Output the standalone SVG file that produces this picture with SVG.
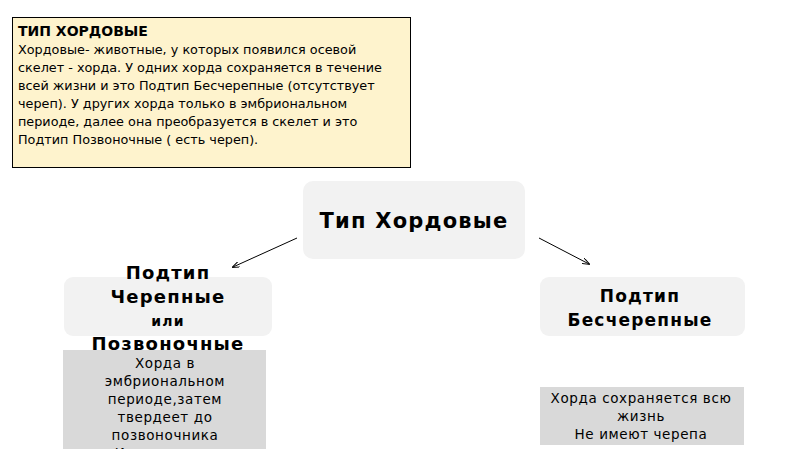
<svg xmlns="http://www.w3.org/2000/svg" width="800" height="449" viewBox="0 0 800 449">
<style>
text{font-family:"DejaVu Sans",sans-serif;fill:#000}
.b{font-weight:bold;text-anchor:middle;letter-spacing:1.2px}
.s{font-size:13.5px;text-anchor:middle;letter-spacing:0.6px}
.d{font-size:12.8px}
.node{fill:#f2f2f2}
.gray{fill:#d9d9d9}
</style>
<defs>
<marker id="a" markerWidth="8" markerHeight="6" refX="7" refY="3" orient="auto" markerUnits="userSpaceOnUse"><path d="M0,0L8,3L0,6" fill="none" stroke="#000" stroke-width="1"/></marker>
<clipPath id="c"><rect x="0" y="0" width="800" height="449"/></clipPath>
</defs>
<rect width="800" height="449" fill="#fff"/>
<g id="info">
<rect x="12.5" y="17.5" width="398" height="150" fill="#fef3cd" stroke="#000"/>
<text x="18" y="36" font-size="14" font-weight="bold">ТИП ХОРДОВЫЕ</text>
<text class="d" x="18" y="54">Хордовые- животные, у которых появился осевой</text>
<text class="d" x="18" y="72">скелет - хорда. У одних хорда сохраняется в течение</text>
<text class="d" x="18" y="90">всей жизни и это Подтип Бесчерепные (отсутствует</text>
<text class="d" x="18" y="108">череп). У других хорда только в эмбриональном</text>
<text class="d" x="18" y="126">периоде, далее она преобразуется в скелет и это</text>
<text class="d" x="18" y="144">Подтип Позвоночные ( есть череп).</text>
</g>
<g id="root">
<rect class="node" x="303" y="181" width="222" height="78" rx="10"/>
<text class="b" x="414" y="228" font-size="21">Тип Хордовые</text>
</g>
<g id="left">
<rect class="node" x="64" y="277" width="208" height="59" rx="9"/>
<text class="b" x="168" y="279" font-size="18">Подтип</text>
<text class="b" x="168" y="303" font-size="18">Черепные</text>
<text class="b" x="168" y="326" font-size="14">или</text>
<text class="b" x="168" y="350" font-size="18">Позвоночные</text>
</g>
<g id="leftdesc" clip-path="url(#c)">
<rect class="gray" x="63" y="350" width="203" height="110"/>
<text class="s" x="165" y="368">Хорда в</text>
<text class="s" x="165" y="386">эмбриональном</text>
<text class="s" x="165" y="404">периоде,затем</text>
<text class="s" x="165" y="422">твердеет до</text>
<text class="s" x="165" y="440">позвоночника</text>
<text class="s" x="165" y="458">Имеют череп</text>
</g>
<g id="right">
<rect class="node" x="540" y="277" width="205" height="59" rx="9"/>
<text class="b" x="640" y="302" font-size="17">Подтип</text>
<text class="b" x="640" y="326" font-size="17">Бесчерепные</text>
</g>
<g id="rightdesc">
<rect class="gray" x="540" y="387" width="204" height="58"/>
<text class="s" x="641" y="403">Хорда сохраняется всю</text>
<text class="s" x="641" y="421">жизнь</text>
<text class="s" x="641" y="439">Не имеют черепа</text>
</g>
<g id="connectors" stroke="#000" stroke-width="1" fill="none">
<line x1="297" y1="238" x2="233" y2="267" marker-end="url(#a)"/>
<line x1="539" y1="238" x2="589" y2="264" marker-end="url(#a)"/>
</g>
</svg>
